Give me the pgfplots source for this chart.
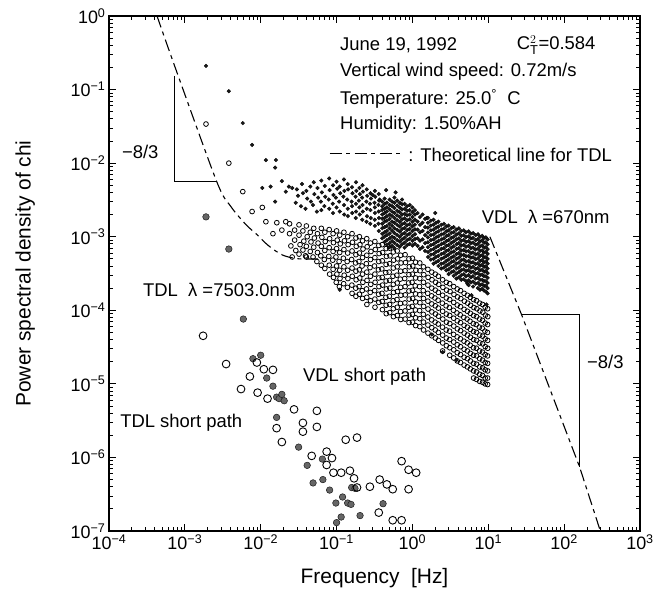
\documentclass[border=0pt]{standalone}
\usepackage{fontspec}
\setmainfont{Liberation Sans}
\usepackage{pgfplots}
\pgfplotsset{compat=1.18}
\newcommand{\annfont}{\fontsize{18.5}{21}\selectfont}
\begin{document}
\begin{tikzpicture}
\begin{axis}[
  at={(0,0)}, anchor=south west,
  scale only axis, width=531bp, height=515bp,
  xmode=log, ymode=log,
  xmin=1e-4, xmax=1e3, ymin=1e-7, ymax=1,
  xtick={1e-4,1e-3,1e-2,1e-1,1,1e1,1e2,1e3},
  xticklabels={10\textsuperscript{−4},10\textsuperscript{−3},10\textsuperscript{−2},10\textsuperscript{−1},10\textsuperscript{0},10\textsuperscript{1},10\textsuperscript{2},10\textsuperscript{3}},
  minor xtick={2e-4,3e-4,4e-4,5e-4,6e-4,7e-4,8e-4,9e-4,2e-3,3e-3,4e-3,5e-3,6e-3,7e-3,8e-3,9e-3,2e-2,3e-2,4e-2,5e-2,6e-2,7e-2,8e-2,9e-2,0.2,0.3,0.4,0.5,0.6,0.7,0.8,0.9,2,3,4,5,6,7,8,9,20,30,40,50,60,70,80,90,200,300,400,500,600,700,800,900},
  ytick={1e-7,1e-6,1e-5,1e-4,1e-3,1e-2,1e-1,1},
  yticklabels={10\textsuperscript{−7},10\textsuperscript{−6},10\textsuperscript{−5},10\textsuperscript{−4},10\textsuperscript{−3},10\textsuperscript{−2},10\textsuperscript{−1},10\textsuperscript{0}},
  minor ytick={2e-7,3e-7,4e-7,5e-7,6e-7,7e-7,8e-7,9e-7,2e-6,3e-6,4e-6,5e-6,6e-6,7e-6,8e-6,9e-6,2e-5,3e-5,4e-5,5e-5,6e-5,7e-5,8e-5,9e-5,2e-4,3e-4,4e-4,5e-4,6e-4,7e-4,8e-4,9e-4,2e-3,3e-3,4e-3,5e-3,6e-3,7e-3,8e-3,9e-3,2e-2,3e-2,4e-2,5e-2,6e-2,7e-2,8e-2,9e-2,0.2,0.3,0.4,0.5,0.6,0.7,0.8,0.9},
  tick align=inside,
  major tick length=7bp, minor tick length=4bp,
  every tick/.style={black, line width=0.8pt},
  minor tick style={black, line width=0.8pt},
  axis line style={line width=1.2pt},
  ticklabel style={font=\fontsize{18}{20}\selectfont},
  xlabel={Frequency\ \ [Hz]}, ylabel={Power spectral density of chi},
  label style={font=\fontsize{21}{24}\selectfont},
  xlabel style={at={(axis description cs:0.5,-0.091)}, anchor=center},
  ylabel style={at={(axis description cs:-0.158,0.5)}, anchor=center},
  clip=false,
]
% theoretical line for TDL
\addplot[black, line width=1.1pt, dash pattern=on 12bp off 4.5bp on 4bp off 4.5bp, smooth] coordinates {
(4.3e-4,1) (7.4e-4,0.204) (2.63e-3,5.62e-3) (3.98e-3,2.63e-3) (6.31e-3,1.48e-3) (8.91e-3,1.07e-3) (1.26e-2,7.59e-4) (1.95e-2,5.62e-4) (3.16e-2,5.01e-4) (6.31e-2,5.01e-4)};
% TDL long path (open small circles)
\addplot[only marks, mark=o, mark size=2.4, mark options={line width=0.8pt, draw=black}] coordinates {
(0.0019,0.034) (0.0038,0.01) (0.0058,0.0041) (0.0077,0.0022) (0.0117,0.0016) (0.0145,0.0011) (0.0163,0.00155) (0.019,0.00123) (0.0214,0.0016) (0.028,0.00123) (0.026,5.3e-4) (0.04,5.3e-4) (0.0105,0.0025)
(0.024,1.5e-3) (0.024,1.1e-3) (0.025,7.5e-4)
(0.028,9.0e-4) (0.029,6.5e-4)
(0.032,1.45e-3) (0.032,1.05e-3) (0.033,7.8e-4) (0.032,5.8e-4)
(0.036,1.2e-3) (0.037,8.7e-4) (0.036,6.6e-4)
(0.040,1.4e-3) (0.041,1.0e-3) (0.040,7.4e-4) (0.039,5.5e-4)
(0.045,1.15e-3) (0.046,8.5e-4) (0.045,6.3e-4)
(0.050,1.3e-3) (0.051,9.6e-4) (0.050,7.2e-4) (0.049,5.3e-4)
(0.056,1.1e-3) (0.057,8.2e-4) (0.056,6.1e-4) (0.055,4.6e-4)
(0.063,1.3e-3) (0.064,9.8e-4) (0.063,7.4e-4) (0.062,5.5e-4) (0.063,4.1e-4)
(0.070,1.15e-3) (0.071,8.6e-4) (0.070,6.5e-4) (0.069,4.9e-4) (0.070,3.7e-4)
(0.080,1.25e-3) (0.081,9.4e-4) (0.080,7.1e-4) (0.079,5.4e-4) (0.080,4.1e-4) (0.081,3.1e-4)
(0.090,1.1e-3) (0.091,8.3e-4) (0.090,6.3e-4) (0.089,4.8e-4) (0.090,3.6e-4) (0.091,2.8e-4)
(0.100,1.2e-3) (0.102,9.0e-4) (0.100,6.9e-4) (0.098,5.3e-4) (0.100,4.0e-4) (0.101,3.1e-4) (0.099,2.4e-4)
(0.110,1.05e-3) (0.112,8.0e-4) (0.110,6.1e-4) (0.108,4.6e-4) (0.110,3.5e-4) (0.111,2.7e-4) (0.109,2.1e-4)
(0.125,1.15e-3) (0.127,8.8e-4) (0.125,6.7e-4) (0.123,5.1e-4) (0.125,3.9e-4) (0.126,3.0e-4) (0.124,2.3e-4)
(0.140,1.0e-3) (0.142,7.8e-4) (0.140,6.0e-4) (0.138,4.6e-4) (0.140,3.5e-4) (0.141,2.7e-4) (0.139,2.05e-4)
(0.160,1.1e-3) (0.162,8.4e-4) (0.160,6.4e-4) (0.158,4.9e-4) (0.160,3.75e-4) (0.161,2.9e-4) (0.159,2.2e-4) (0.160,1.7e-4)
(0.180,9.6e-4) (0.182,7.4e-4) (0.180,5.7e-4) (0.178,4.4e-4) (0.180,3.4e-4) (0.181,2.6e-4) (0.179,2.0e-4) (0.180,1.55e-4)
(0.200,1.0e-3) (0.203,7.8e-4) (0.200,6.0e-4) (0.197,4.6e-4) (0.200,3.55e-4) (0.202,2.75e-4) (0.198,2.1e-4) (0.200,1.65e-4)
(0.220,8.8e-4) (0.223,6.8e-4) (0.220,5.2e-4) (0.217,4.0e-4) (0.220,3.1e-4) (0.222,2.4e-4) (0.218,1.85e-4) (0.220,1.45e-4)
(0.250,9.4e-4) (0.253,7.3e-4) (0.250,5.6e-4) (0.247,4.3e-4) (0.250,3.3e-4) (0.252,2.55e-4) (0.248,1.95e-4) (0.250,1.5e-4) (0.251,1.2e-4)
(0.280,8.2e-4) (0.284,6.3e-4) (0.280,4.9e-4) (0.276,3.8e-4) (0.280,2.9e-4) (0.282,2.25e-4) (0.278,1.75e-4) (0.280,1.35e-4)
(0.320,8.6e-4) (0.324,6.7e-4) (0.320,5.2e-4) (0.316,4.0e-4) (0.320,3.1e-4) (0.322,2.4e-4) (0.318,1.85e-4) (0.320,1.42e-4) (0.321,1.1e-4)
(0.360,7.6e-4) (0.364,5.9e-4) (0.360,4.6e-4) (0.356,3.55e-4) (0.360,2.75e-4) (0.362,2.1e-4) (0.358,1.65e-4) (0.360,1.28e-4)
(0.400,7.8e-4) (0.405,6.1e-4) (0.400,4.7e-4) (0.395,3.65e-4) (0.400,2.8e-4) (0.403,2.2e-4) (0.397,1.7e-4) (0.400,1.32e-4) (0.402,1.02e-4)
(0.450,6.9e-4) (0.455,5.4e-4) (0.450,4.2e-4) (0.445,3.25e-4) (0.450,2.5e-4) (0.453,1.95e-4) (0.447,1.5e-4) (0.450,1.17e-4) (0.452,9.0e-5)
(0.500,7.0e-4) (0.506,5.5e-4) (0.500,4.3e-4) (0.494,3.3e-4) (0.500,2.55e-4) (0.503,2.0e-4) (0.497,1.55e-4) (0.500,1.2e-4) (0.502,9.3e-5)
(0.560,6.2e-4) (0.566,4.8e-4) (0.560,3.75e-4) (0.554,2.9e-4) (0.560,2.25e-4) (0.563,1.75e-4) (0.557,1.35e-4) (0.560,1.05e-4) (0.562,8.2e-5)
(0.630,6.4e-4) (0.637,5.0e-4) (0.630,3.9e-4) (0.623,3.0e-4) (0.630,2.35e-4) (0.634,1.8e-4) (0.626,1.4e-4) (0.630,1.1e-4) (0.632,8.5e-5)
(0.700,5.6e-4) (0.708,4.4e-4) (0.700,3.4e-4) (0.692,2.65e-4) (0.700,2.05e-4) (0.704,1.6e-4) (0.696,1.24e-4) (0.700,9.6e-5) (0.702,7.5e-5)
(0.800,5.7e-4) (0.809,4.45e-4) (0.800,3.45e-4) (0.791,2.7e-4) (0.800,2.1e-4) (0.805,1.62e-4) (0.795,1.26e-4) (0.800,9.8e-5) (0.802,7.6e-5)
(0.900,5.0e-4) (0.910,3.9e-4) (0.900,3.05e-4) (0.890,2.35e-4) (0.900,1.83e-4) (0.905,1.42e-4) (0.895,1.1e-4) (0.900,8.6e-5) (0.902,6.8e-5)
(1.00,5.1e-4) (1.01,4.0e-4) (1.00,3.1e-4) (0.99,2.4e-4) (1.00,1.87e-4) (1.005,1.45e-4) (0.995,1.13e-4) (1.00,8.8e-5) (1.002,6.9e-5)
(1.10,4.5e-4) (1.11,3.5e-4) (1.10,2.75e-4) (1.09,2.15e-4) (1.10,1.67e-4) (1.105,1.3e-4) (1.095,1.01e-4) (1.10,7.9e-5) (1.102,6.2e-5)
(1.25,4.4e-4) (1.26,3.45e-4) (1.25,2.7e-4) (1.24,2.1e-4) (1.25,1.63e-4) (1.255,1.27e-4) (1.245,9.9e-5) (1.25,7.7e-5) (1.252,6.0e-5)
(1.40,3.9e-4) (1.41,3.05e-4) (1.40,2.4e-4) (1.39,1.85e-4) (1.40,1.45e-4) (1.405,1.13e-4) (1.395,8.8e-5) (1.40,6.9e-5) (1.402,5.4e-5)
(1.60,3.6e-4) (1.61,2.8e-4) (1.60,2.2e-4) (1.59,1.7e-4) (1.60,1.33e-4) (1.605,1.04e-4) (1.595,8.1e-5) (1.60,6.3e-5) (1.602,4.9e-5)
(1.80,3.3e-4) (1.81,2.6e-4) (1.80,2.0e-4) (1.79,1.57e-4) (1.80,1.22e-4) (1.805,9.5e-5) (1.795,7.4e-5) (1.80,5.8e-5) (1.802,4.5e-5)
(2.00,3.1e-4) (2.02,2.4e-4) (2.00,1.88e-4) (1.98,1.47e-4) (2.00,1.15e-4) (2.01,8.9e-5) (1.99,6.9e-5) (2.00,5.4e-5) (2.005,4.2e-5)
(2.20,2.9e-4) (2.22,2.25e-4) (2.20,1.75e-4) (2.18,1.37e-4) (2.20,1.07e-4) (2.21,8.3e-5) (2.19,6.5e-5) (2.20,5.0e-5) (2.205,3.9e-5)
(2.50,2.6e-4) (2.52,2.05e-4) (2.50,1.6e-4) (2.48,1.25e-4) (2.50,9.7e-5) (2.51,7.6e-5) (2.49,5.9e-5) (2.50,4.6e-5) (2.505,3.6e-5) (2.50,2.8e-5)
(2.80,2.4e-4) (2.82,1.88e-4) (2.80,1.47e-4) (2.78,1.15e-4) (2.80,8.9e-5) (2.81,6.9e-5) (2.79,5.4e-5) (2.80,4.2e-5) (2.805,3.3e-5)
(3.10,2.3e-4) (3.13,1.8e-4) (3.10,1.4e-4) (3.07,1.09e-4) (3.10,8.5e-5) (3.11,6.6e-5) (3.09,5.2e-5) (3.10,4.0e-5) (3.105,3.1e-5) (3.10,2.45e-5)
(3.50,2.1e-4) (3.53,1.64e-4) (3.50,1.28e-4) (3.47,1.0e-4) (3.50,7.8e-5) (3.51,6.1e-5) (3.49,4.7e-5) (3.50,3.7e-5) (3.505,2.9e-5) (3.50,2.25e-5)
(3.90,1.95e-4) (3.93,1.52e-4) (3.90,1.18e-4) (3.87,9.2e-5) (3.90,7.2e-5) (3.91,5.6e-5) (3.89,4.35e-5) (3.90,3.4e-5) (3.905,2.65e-5) (3.90,2.05e-5)
(4.30,1.85e-4) (4.34,1.44e-4) (4.30,1.12e-4) (4.26,8.7e-5) (4.30,6.8e-5) (4.31,5.3e-5) (4.29,4.1e-5) (4.30,3.2e-5) (4.305,2.5e-5) (4.30,1.95e-5)
(4.80,1.7e-4) (4.84,1.33e-4) (4.80,1.03e-4) (4.76,8.0e-5) (4.80,6.25e-5) (4.81,4.9e-5) (4.79,3.8e-5) (4.80,2.95e-5) (4.805,2.3e-5) (4.80,1.8e-5)
(5.30,1.6e-4) (5.35,1.25e-4) (5.30,9.7e-5) (5.25,7.6e-5) (5.30,5.9e-5) (5.32,4.6e-5) (5.28,3.6e-5) (5.30,2.8e-5) (5.31,2.2e-5) (5.30,1.7e-5)
(5.80,1.5e-4) (5.85,1.17e-4) (5.80,9.1e-5) (5.75,7.1e-5) (5.80,5.5e-5) (5.82,4.3e-5) (5.78,3.35e-5) (5.80,2.6e-5) (5.81,2.05e-5) (5.80,1.6e-5)
(6.40,1.4e-4) (6.45,1.09e-4) (6.40,8.5e-5) (6.35,6.6e-5) (6.40,5.15e-5) (6.42,4.0e-5) (6.38,3.1e-5) (6.40,2.45e-5) (6.41,1.9e-5) (6.40,1.5e-5) (6.40,1.2e-5)
(7.00,1.35e-4) (7.06,1.05e-4) (7.00,8.2e-5) (6.94,6.4e-5) (7.00,5.0e-5) (7.02,3.9e-5) (6.98,3.05e-5) (7.00,2.4e-5) (7.01,1.85e-5) (7.00,1.45e-5) (7.00,1.15e-5)
(7.70,1.25e-4) (7.76,9.8e-5) (7.70,7.6e-5) (7.64,5.9e-5) (7.70,4.6e-5) (7.72,3.6e-5) (7.68,2.8e-5) (7.70,2.2e-5) (7.71,1.7e-5) (7.70,1.35e-5) (7.70,1.08e-5)
(8.40,1.2e-4) (8.47,9.4e-5) (8.40,7.3e-5) (8.33,5.7e-5) (8.40,4.45e-5) (8.42,3.5e-5) (8.38,2.7e-5) (8.40,2.1e-5) (8.41,1.65e-5) (8.40,1.3e-5) (8.40,1.05e-5)
(9.10,1.1e-4) (9.17,8.6e-5) (9.10,6.7e-5) (9.03,5.2e-5) (9.10,4.1e-5) (9.12,3.2e-5) (9.08,2.5e-5) (9.10,1.95e-5) (9.11,1.55e-5) (9.10,1.2e-5) (9.10,1.0e-5)
(9.80,1.05e-4) (9.85,8.2e-5) (9.80,6.4e-5) (9.75,5.0e-5) (9.80,3.9e-5) (9.82,3.05e-5) (9.78,2.4e-5) (9.80,1.9e-5) (9.81,1.5e-5) (9.80,1.2e-5) (9.80,9.8e-6)
};
% VDL long path (small filled dots)
\addplot[only marks, mark=*, mark size=1.9, mark options={fill=black!90, draw=black, line width=0.3pt}] coordinates {
(0.0019,0.21) (0.0038,0.095) (0.0058,0.035) (0.0077,0.0177) (0.0105,0.0046) (0.0117,0.011) (0.0135,0.0048) (0.0155,0.0087) (0.0155,0.003) (0.0159,0.011) (0.019,0.0057) (0.0214,0.0041) (0.0235,0.0048) (0.026,0.0046)
(0.11,1.9e-4) (1.8,4.7e-5) (2.5,2.7e-5) (3.8,2.1e-5) (9.5,1.2e-4) (5.3,2.3e-4) (6.0,1.6e-4) (0.30,3.7e-3) (0.37,3.2e-3) (1.55,1.8e-3) (2.0,2.1e-3) (0.45,4.3e-3) (0.6,4.0e-3)
(0.030,4.4e-3) (0.031,3.6e-3) (0.029,2.9e-3)
(0.035,5.2e-3) (0.036,3.9e-3) (0.034,2.6e-3)
(0.040,4.2e-3) (0.041,3.3e-3) (0.039,2.4e-3)
(0.045,4.8e-3) (0.046,3.0e-3)
(0.050,5.5e-3) (0.051,3.8e-3) (0.049,2.7e-3)
(0.056,4.6e-3) (0.057,3.4e-3) (0.055,2.2e-3)
(0.063,5.8e-3) (0.064,4.0e-3) (0.062,3.0e-3) (0.063,2.3e-3)
(0.070,4.9e-3) (0.071,3.5e-3) (0.069,2.6e-3)
(0.080,6.2e-3) (0.081,4.3e-3) (0.079,3.2e-3) (0.080,2.4e-3)
(0.090,5.0e-3) (0.091,3.7e-3) (0.089,2.8e-3) (0.090,2.1e-3)
(0.100,5.6e-3) (0.102,4.5e-3) (0.098,3.4e-3) (0.100,2.5e-3)
(0.110,4.8e-3) (0.112,3.9e-3) (0.108,3.0e-3) (0.110,2.2e-3)
(0.125,6.0e-3) (0.127,4.2e-3) (0.123,3.5e-3) (0.125,2.7e-3) (0.126,2.0e-3)
(0.140,5.2e-3) (0.142,4.4e-3) (0.138,3.2e-3) (0.140,2.4e-3) (0.141,1.9e-3)
(0.160,4.7e-3) (0.162,3.9e-3) (0.158,3.0e-3) (0.160,2.6e-3) (0.161,2.1e-3)
(0.180,5.5e-3) (0.182,4.2e-3) (0.178,3.5e-3) (0.180,2.8e-3) (0.181,2.2e-3) (0.179,1.8e-3)
(0.200,4.6e-3) (0.203,3.8e-3) (0.197,3.1e-3) (0.200,2.5e-3) (0.202,2.0e-3)
(0.220,5.0e-3) (0.223,4.1e-3) (0.217,3.4e-3) (0.220,2.7e-3) (0.222,2.2e-3) (0.218,1.7e-3)
(0.250,4.4e-3) (0.253,3.6e-3) (0.247,3.0e-3) (0.250,2.4e-3) (0.252,1.9e-3) (0.248,1.6e-3)
(0.280,3.9e-3) (0.284,3.3e-3) (0.276,2.8e-3) (0.280,2.3e-3) (0.282,1.8e-3) (0.278,1.5e-3)
(0.320,4.2e-3) (0.324,3.5e-3) (0.316,2.9e-3) (0.320,2.5e-3) (0.322,2.1e-3) (0.318,1.7e-3) (0.320,1.4e-3)
(0.360,3.8e-3) (0.364,3.1e-3) (0.356,2.7e-3) (0.360,2.2e-3) (0.362,1.8e-3) (0.358,1.5e-3) (0.360,1.2e-3)
(0.40,3.0e-3) (0.40,2.6e-3) (0.40,2.3e-3) (0.40,2.0e-3) (0.40,1.75e-3) (0.40,1.5e-3) (0.40,1.3e-3) (0.40,1.1e-3) (0.40,9.5e-4)
(0.43,3.3e-3) (0.43,2.8e-3) (0.43,2.4e-3) (0.43,2.1e-3) (0.43,1.8e-3) (0.43,1.6e-3) (0.43,1.35e-3) (0.43,1.15e-3) (0.43,1.0e-3) (0.43,8.5e-4)
(0.46,2.9e-3) (0.46,2.5e-3) (0.46,2.2e-3) (0.46,1.9e-3) (0.46,1.65e-3) (0.46,1.4e-3) (0.46,1.2e-3) (0.46,1.05e-3) (0.46,9.0e-4) (0.46,7.8e-4)
(0.50,3.2e-3) (0.50,2.7e-3) (0.50,2.35e-3) (0.50,2.0e-3) (0.50,1.75e-3) (0.50,1.5e-3) (0.50,1.3e-3) (0.50,1.1e-3) (0.50,9.5e-4) (0.50,8.2e-4) (0.50,7.2e-4)
(0.54,3.0e-3) (0.54,2.6e-3) (0.54,2.2e-3) (0.54,1.9e-3) (0.54,1.6e-3) (0.54,1.4e-3) (0.54,1.2e-3) (0.54,1.0e-3) (0.54,8.7e-4) (0.54,7.5e-4)
(0.58,3.4e-3) (0.58,2.9e-3) (0.58,2.45e-3) (0.58,2.1e-3) (0.58,1.8e-3) (0.58,1.55e-3) (0.58,1.3e-3) (0.58,1.12e-3) (0.58,9.6e-4) (0.58,8.2e-4) (0.58,7.0e-4)
(0.63,3.1e-3) (0.63,2.65e-3) (0.63,2.25e-3) (0.63,1.95e-3) (0.63,1.68e-3) (0.63,1.45e-3) (0.63,1.24e-3) (0.63,1.06e-3) (0.63,9.0e-4) (0.63,7.7e-4)
(0.68,2.9e-3) (0.68,2.5e-3) (0.68,2.15e-3) (0.68,1.85e-3) (0.68,1.6e-3) (0.68,1.38e-3) (0.68,1.18e-3) (0.68,1.0e-3) (0.68,8.6e-4) (0.68,7.3e-4)
(0.73,3.2e-3) (0.73,2.75e-3) (0.73,2.35e-3) (0.73,2.0e-3) (0.73,1.72e-3) (0.73,1.48e-3) (0.73,1.27e-3) (0.73,1.08e-3) (0.73,9.2e-4) (0.73,7.9e-4)
(0.79,2.8e-3) (0.79,2.4e-3) (0.79,2.05e-3) (0.79,1.78e-3) (0.79,1.53e-3) (0.79,1.32e-3) (0.79,1.13e-3) (0.79,9.7e-4) (0.79,8.3e-4) (0.79,7.1e-4)
(0.85,2.6e-3) (0.85,2.25e-3) (0.85,1.95e-3) (0.85,1.67e-3) (0.85,1.43e-3) (0.85,1.23e-3) (0.85,1.05e-3) (0.85,9.0e-4) (0.85,7.7e-4)
(0.92,2.7e-3) (0.92,2.3e-3) (0.92,2.0e-3) (0.92,1.72e-3) (0.92,1.48e-3) (0.92,1.28e-3) (0.92,1.1e-3) (0.92,9.4e-4) (0.92,8.0e-4)
(1.00,2.5e-3) (1.00,2.15e-3) (1.00,1.85e-3) (1.00,1.6e-3) (1.00,1.38e-3) (1.00,1.19e-3) (1.00,1.02e-3) (1.00,8.8e-4) (1.00,7.6e-4)
(1.08,2.3e-3) (1.08,2.0e-3) (1.08,1.7e-3) (1.08,1.46e-3) (1.08,1.26e-3) (1.08,1.08e-3) (1.08,9.3e-4) (1.08,8.0e-4)
(1.17,2.1e-3) (1.17,1.6e-3) (1.17,1.25e-3) (1.17,9.5e-4) (1.17,7.5e-4)
(1.26,1.85e-3) (1.26,1.45e-3) (1.26,1.15e-3) (1.26,8.8e-4) (1.26,6.8e-4)
(1.36,2.0e-3) (1.36,1.55e-3) (1.36,1.2e-3) (1.36,9.2e-4) (1.36,7.2e-4)
(1.47,1.75e-3) (1.47,1.35e-3) (1.47,1.05e-3) (1.47,8.2e-4) (1.47,6.4e-4)
(1.60,1.8e-3) (1.60,1.55e-3) (1.60,1.33e-3) (1.60,1.14e-3) (1.60,9.8e-4) (1.60,8.4e-4) (1.60,7.2e-4) (1.60,6.2e-4) (1.60,5.3e-4)
(1.75,1.65e-3) (1.75,1.42e-3) (1.75,1.22e-3) (1.75,1.05e-3) (1.75,9.0e-4) (1.75,7.7e-4) (1.75,6.6e-4) (1.75,5.7e-4) (1.75,4.9e-4)
(1.90,1.7e-3) (1.90,1.46e-3) (1.90,1.25e-3) (1.90,1.07e-3) (1.90,9.2e-4) (1.90,7.9e-4) (1.90,6.8e-4) (1.90,5.8e-4) (1.90,5.0e-4) (1.90,4.3e-4)
(2.05,1.55e-3) (2.05,1.33e-3) (2.05,1.14e-3) (2.05,9.8e-4) (2.05,8.4e-4) (2.05,7.2e-4) (2.05,6.2e-4) (2.05,5.3e-4) (2.05,4.5e-4)
(2.20,1.6e-3) (2.20,1.37e-3) (2.20,1.18e-3) (2.20,1.01e-3) (2.20,8.7e-4) (2.20,7.5e-4) (2.20,6.4e-4) (2.20,5.5e-4) (2.20,4.7e-4) (2.20,4.0e-4)
(2.40,1.45e-3) (2.40,1.25e-3) (2.40,1.07e-3) (2.40,9.2e-4) (2.40,7.9e-4) (2.40,6.8e-4) (2.40,5.8e-4) (2.40,5.0e-4) (2.40,4.3e-4) (2.40,3.7e-4)
(2.60,1.5e-3) (2.60,1.29e-3) (2.60,1.1e-3) (2.60,9.5e-4) (2.60,8.2e-4) (2.60,7.0e-4) (2.60,6.0e-4) (2.60,5.2e-4) (2.60,4.4e-4) (2.60,3.8e-4)
(2.80,1.38e-3) (2.80,1.18e-3) (2.80,1.02e-3) (2.80,8.7e-4) (2.80,7.5e-4) (2.80,6.4e-4) (2.80,5.5e-4) (2.80,4.7e-4) (2.80,4.05e-4) (2.80,3.5e-4)
(3.00,1.42e-3) (3.00,1.22e-3) (3.00,1.05e-3) (3.00,9.0e-4) (3.00,7.7e-4) (3.00,6.6e-4) (3.00,5.7e-4) (3.00,4.9e-4) (3.00,4.2e-4) (3.00,3.6e-4) (3.00,3.1e-4)
(3.25,1.3e-3) (3.25,1.12e-3) (3.25,9.6e-4) (3.25,8.2e-4) (3.25,7.1e-4) (3.25,6.1e-4) (3.25,5.2e-4) (3.25,4.5e-4) (3.25,3.85e-4) (3.25,3.3e-4)
(3.50,1.35e-3) (3.50,1.16e-3) (3.50,1.0e-3) (3.50,8.6e-4) (3.50,7.4e-4) (3.50,6.3e-4) (3.50,5.4e-4) (3.50,4.65e-4) (3.50,4.0e-4) (3.50,3.4e-4) (3.50,2.95e-4)
(3.80,1.25e-3) (3.80,1.07e-3) (3.80,9.2e-4) (3.80,7.9e-4) (3.80,6.8e-4) (3.80,5.8e-4) (3.80,5.0e-4) (3.80,4.3e-4) (3.80,3.7e-4) (3.80,3.15e-4) (3.80,2.7e-4)
(4.10,1.3e-3) (4.10,1.11e-3) (4.10,9.5e-4) (4.10,8.2e-4) (4.10,7.0e-4) (4.10,6.0e-4) (4.10,5.2e-4) (4.10,4.45e-4) (4.10,3.8e-4) (4.10,3.3e-4) (4.10,2.8e-4)
(4.40,1.2e-3) (4.40,1.03e-3) (4.40,8.8e-4) (4.40,7.6e-4) (4.40,6.5e-4) (4.40,5.6e-4) (4.40,4.8e-4) (4.40,4.1e-4) (4.40,3.5e-4) (4.40,3.0e-4) (4.40,2.6e-4)
(4.75,1.22e-3) (4.75,1.05e-3) (4.75,9.0e-4) (4.75,7.7e-4) (4.75,6.6e-4) (4.75,5.7e-4) (4.75,4.9e-4) (4.75,4.2e-4) (4.75,3.6e-4) (4.75,3.1e-4) (4.75,2.65e-4)
(5.10,1.15e-3) (5.10,9.9e-4) (5.10,8.5e-4) (5.10,7.3e-4) (5.10,6.3e-4) (5.10,5.4e-4) (5.10,4.6e-4) (5.10,3.95e-4) (5.10,3.4e-4) (5.10,2.9e-4) (5.10,2.5e-4)
(5.50,1.18e-3) (5.50,1.01e-3) (5.50,8.7e-4) (5.50,7.5e-4) (5.50,6.4e-4) (5.50,5.5e-4) (5.50,4.7e-4) (5.50,4.05e-4) (5.50,3.5e-4) (5.50,3.0e-4) (5.50,2.55e-4) (5.50,2.2e-4)
(5.90,1.1e-3) (5.90,9.5e-4) (5.90,8.2e-4) (5.90,7.0e-4) (5.90,6.0e-4) (5.90,5.2e-4) (5.90,4.45e-4) (5.90,3.8e-4) (5.90,3.3e-4) (5.90,2.8e-4) (5.90,2.4e-4)
(6.30,1.12e-3) (6.30,9.6e-4) (6.30,8.3e-4) (6.30,7.1e-4) (6.30,6.1e-4) (6.30,5.25e-4) (6.30,4.5e-4) (6.30,3.9e-4) (6.30,3.35e-4) (6.30,2.9e-4) (6.30,2.45e-4) (6.30,2.1e-4)
(6.80,1.05e-3) (6.80,9.0e-4) (6.80,7.8e-4) (6.80,6.7e-4) (6.80,5.75e-4) (6.80,4.95e-4) (6.80,4.25e-4) (6.80,3.65e-4) (6.80,3.15e-4) (6.80,2.7e-4) (6.80,2.3e-4)
(7.30,1.08e-3) (7.30,9.3e-4) (7.30,8.0e-4) (7.30,6.9e-4) (7.30,5.9e-4) (7.30,5.1e-4) (7.30,4.35e-4) (7.30,3.75e-4) (7.30,3.2e-4) (7.30,2.75e-4) (7.30,2.35e-4) (7.30,2.0e-4)
(7.80,1.0e-3) (7.80,8.6e-4) (7.80,7.4e-4) (7.80,6.4e-4) (7.80,5.5e-4) (7.80,4.7e-4) (7.80,4.05e-4) (7.80,3.5e-4) (7.80,3.0e-4) (7.80,2.6e-4) (7.80,2.2e-4) (7.80,1.9e-4)
(8.30,1.03e-3) (8.30,8.9e-4) (8.30,7.6e-4) (8.30,6.5e-4) (8.30,5.6e-4) (8.30,4.8e-4) (8.30,4.15e-4) (8.30,3.55e-4) (8.30,3.05e-4) (8.30,2.6e-4) (8.30,2.25e-4) (8.30,1.95e-4)
(8.80,9.6e-4) (8.80,8.3e-4) (8.80,7.1e-4) (8.80,6.1e-4) (8.80,5.25e-4) (8.80,4.5e-4) (8.80,3.9e-4) (8.80,3.35e-4) (8.80,2.9e-4) (8.80,2.5e-4) (8.80,2.15e-4) (8.80,1.85e-4)
(9.30,9.8e-4) (9.30,8.4e-4) (9.30,7.2e-4) (9.30,6.2e-4) (9.30,5.3e-4) (9.30,4.6e-4) (9.30,3.95e-4) (9.30,3.4e-4) (9.30,2.9e-4) (9.30,2.5e-4) (9.30,2.15e-4) (9.30,1.8e-4)
(9.80,9.2e-4) (9.80,7.9e-4) (9.80,6.8e-4) (9.80,5.85e-4) (9.80,5.0e-4) (9.80,4.3e-4) (9.80,3.7e-4) (9.80,3.2e-4) (9.80,2.75e-4) (9.80,2.35e-4) (9.80,2.0e-4) (9.80,1.7e-4)
};
% short path, filled grey circles
\addplot[only marks, mark=*, mark size=3.3, mark options={fill=black!60, draw=black!90, line width=0.5pt}] coordinates {
(1.9e-3,1.86e-3) (3.8e-3,6.8e-4) (5.9e-3,7.6e-5) (7.9e-3,2.2e-5) (0.01,2.45e-5) (0.012,1.2e-5) (0.0145,9.3e-6) (0.0162,6.6e-6) (0.0175,6.3e-6) (0.019,7.2e-6) (0.0204,5.9e-6) (0.0162,3.5e-6) (0.0316,1.38e-6) (0.041,7.8e-7) (0.049,4.5e-7) (0.065,9.5e-7) (0.066,5.0e-7) (0.081,3.6e-7) (0.098,2.4e-7) (0.12,2.9e-7) (0.14,2.4e-7) (0.155,2.3e-7) (0.158,3.9e-7) (0.175,3.8e-7) (0.115,1.55e-7) (0.204,1.62e-7) (0.41,2.35e-7) (0.1,1.3e-7)
};
% short path, open circles
\addplot[only marks, mark=o, mark size=3.9, mark options={line width=0.9pt, draw=black}] coordinates {
(1.74e-3,4.5e-5) (3.5e-3,1.86e-5) (7.2e-3,1.26e-5) (5.5e-3,8.5e-6) (8.9e-3,1.95e-5) (0.011,1.58e-5) (0.0145,1.55e-5) (9.1e-3,7.6e-6) (0.0123,6.3e-6) (0.0275,4.5e-6) (0.055,4.3e-6) (0.036,2.95e-6) (0.036,2.24e-6) (0.055,2.6e-6) (0.0162,2.5e-6) (0.019,1.62e-6) (0.047,1.05e-6) (0.132,1.74e-6) (0.186,1.86e-6) (0.074,1.2e-6) (0.087,9.8e-7) (0.074,7.9e-7) (0.091,6.2e-7) (0.115,6.2e-7) (0.15,6.6e-7) (0.17,5.2e-7) (0.186,3.9e-7) (0.275,4.0e-7) (0.37,5.0e-7) (0.46,4.3e-7) (0.55,3.7e-7) (0.36,1.78e-7) (0.72,8.9e-7) (0.89,6.8e-7) (1.12,6.2e-7) (0.89,3.7e-7) (0.55,1.4e-7) (0.72,1.4e-7)
};
% slope triangles
\addplot[black, line width=0.9pt] coordinates {(7.4e-4,0.153) (7.4e-4,5.6e-3) (2.63e-3,5.6e-3)};
\addplot[black, line width=0.9pt] coordinates {(27.5,8.7e-5) (160,8.7e-5) (160,7.4e-7)};
% theoretical line for VDL
\addplot[black, line width=1.1pt, dash pattern=on 12bp off 4.5bp on 4bp off 4.5bp] coordinates {
(10.5,1.0e-3) (27.5,8.7e-5) (160,7.4e-7) (300,1e-7)};
% annotations
\node[anchor=west, inner sep=0, font=\annfont] at (axis cs:0.111,0.404) {June 19, 1992};
\node[anchor=west, inner sep=0, font=\annfont] at (axis cs:23.7,0.404) {$\mathrm{C}_{\mathrm{T}}^{2}$=0.584};
\node[anchor=west, inner sep=0, font=\annfont] at (axis cs:0.111,0.174) {Vertical wind speed: 0.72m/s};
\node[anchor=west, inner sep=0, font=\annfont] at (axis cs:0.111,0.0745) {Temperature: 25.0\textsuperscript{°}\ \ C};
\node[anchor=west, inner sep=0, font=\annfont] at (axis cs:0.111,0.033) {Humidity: 1.50\%AH};
\draw[black, line width=1.1pt, dash pattern=on 12bp off 4.5bp on 4bp off 4.5bp] (axis cs:0.081,0.0135) -- (axis cs:0.68,0.0135);
\node[anchor=west, inner sep=0, font=\annfont] at (axis cs:0.88,0.0129) {: Theoretical line for TDL};
\node[anchor=west, inner sep=0, font=\annfont] at (axis cs:8.2,1.86e-3) {VDL\ \ λ =670nm};
\node[anchor=west, inner sep=0, font=\annfont] at (axis cs:2.8e-4,1.9e-4) {TDL\ \ λ =7503.0nm};
\node[anchor=west, inner sep=0, font=\annfont] at (axis cs:0.036,1.24e-5) {VDL short path};
\node[anchor=west, inner sep=0, font=\annfont] at (axis cs:1.4e-4,2.95e-6) {TDL short path};
\node[anchor=west, inner sep=0, font=\annfont] at (axis cs:1.48e-4,0.0141) {−8/3};
\node[anchor=west, inner sep=0, font=\annfont] at (axis cs:200,2.0e-5) {−8/3};
\end{axis}
\path (-109bp,-60bp) rectangle (558bp,531bp);
\end{tikzpicture}
\end{document}
